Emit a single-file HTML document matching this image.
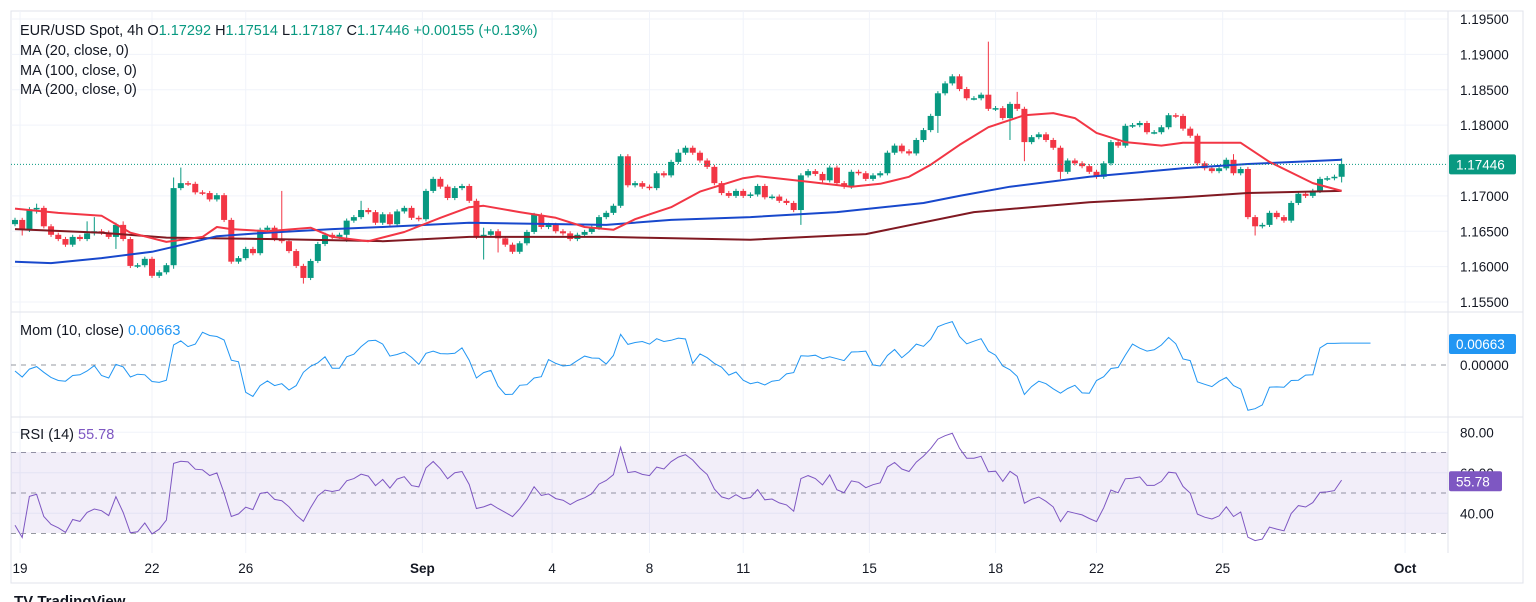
<!DOCTYPE html>
<html><head><meta charset="utf-8"><style>
body{margin:0;background:#fff;width:1536px;height:602px;overflow:hidden;font-family:"Liberation Sans",sans-serif}
svg{display:block}
text{font-family:"Liberation Sans",sans-serif}
</style></head><body>
<svg id="chart" width="1536" height="602" viewBox="0 0 1536 602" xmlns="http://www.w3.org/2000/svg">
<rect x="11" y="11" width="1512" height="572" fill="#fff" stroke="#e0e3eb"/>
<g id="grid"></g>
<rect x="11" y="452" width="1437" height="81" fill="rgba(126,87,194,0.1)"/>
<g id="marks"></g>
<line x1="11" y1="312" x2="1523" y2="312" stroke="#e0e3eb"/>
<line x1="11" y1="417" x2="1523" y2="417" stroke="#e0e3eb"/>
<line x1="1448" y1="11" x2="1448" y2="553" stroke="#e0e3eb"/>
<g id="axes"></g>
<g font-size="14.5" fill="#131722">
<text x="20" y="35">EUR/USD Spot, 4h  <tspan>O</tspan><tspan fill="#089981">1.17292</tspan>  <tspan>H</tspan><tspan fill="#089981">1.17514</tspan>  <tspan>L</tspan><tspan fill="#089981">1.17187</tspan>  <tspan>C</tspan><tspan fill="#089981">1.17446  +0.00155 (+0.13%)</tspan></text>
<text x="20" y="55">MA (20, close, 0)</text>
<text x="20" y="75">MA (100, close, 0)</text>
<text x="20" y="94">MA (200, close, 0)</text>
<text x="20" y="335">Mom (10, close)  <tspan fill="#2196f3">0.00663</tspan></text>
<text x="20" y="439">RSI (14)  <tspan fill="#7e57c2">55.78</tspan></text>
</g>
<text x="14" y="606" font-size="15" font-weight="bold" fill="#131722">TV TradingView</text>
</svg>
<script>
const closes=[1.1666,1.1652,1.1681,1.1683,1.1657,1.1645,1.1639,1.1631,1.1642,1.1639,1.1647,1.1650,1.1648,1.1642,1.1659,1.1639,1.1601,1.1602,1.1611,1.1587,
1.1592,1.1602,1.1711,1.1718,1.1717,1.1705,1.1704,1.1695,1.1701,1.1666,1.1607,1.1612,1.1625,1.1619,1.1652,1.1655,1.1639,1.1636,1.1622,1.1601,
1.1584,1.1608,1.1632,1.1645,1.1642,1.1645,1.1665,1.1670,1.1680,1.1677,1.1662,1.1674,1.1660,1.1678,1.1683,1.1669,1.1667,1.1707,1.1724,1.1713,
1.1697,1.1711,1.1714,1.1693,1.1642,1.1645,1.1650,1.1640,1.1631,1.1621,1.1633,1.1649,1.1673,1.1656,1.1659,1.1650,1.1647,1.1639,1.1645,1.1649,
1.1655,1.1670,1.1676,1.1686,1.1756,1.1715,1.1718,1.1713,1.1711,1.1732,1.1729,1.1748,1.1761,1.1768,1.1761,1.1750,1.1741,1.1718,1.1704,1.1700,
1.1707,1.1700,1.1702,1.1714,1.1698,1.1699,1.1693,1.1690,1.1680,1.1729,1.1735,1.1731,1.1722,1.1740,1.1718,1.1713,1.1734,1.1732,1.1724,1.1729,
1.1732,1.1761,1.1771,1.1763,1.1760,1.1779,1.1793,1.1813,1.1845,1.1859,1.1869,1.1851,1.1838,1.1838,1.1843,1.1823,1.1824,1.1810,1.1830,1.1823,
1.1776,1.1783,1.1787,1.1779,1.1768,1.1734,1.1750,1.1746,1.1742,1.1734,1.1727,1.1746,1.1776,1.1771,1.1799,1.1800,1.1803,1.1790,1.1790,1.1797,
1.1814,1.1813,1.1795,1.1785,1.1746,1.1739,1.1735,1.1739,1.1751,1.1732,1.1738,1.1670,1.1657,1.1659,1.1676,1.1670,1.1665,1.1690,1.1703,1.1700,
1.1707,1.1724,1.1725,1.1727,1.1745];
const firstOpen=1.1660;
const wickUp=[3,3,3,6,3,3,3,3,3,3,17,20,3,3,3,5,3,3,3,3, 3,3,15,22,3,3,3,3,3,3,3,3,3,3,3,3,3,68,3,3,
3,3,3,3,3,3,3,3,13,3,3,3,3,3,3,3,3,3,3,3, 3,3,3,3,3,10,3,3,3,3,3,3,3,3,3,3,3,3,3,3,
3,3,3,3,3,3,3,3,3,3,3,3,5,3,3,3,3,3,3,3, 3,3,3,3,3,3,3,3,3,3,3,3,3,3,3,3,3,3,3,3,
3,3,3,3,3,3,3,3,3,3,3,3,3,3,3,75,3,3,3,17, 3,3,3,3,3,3,3,3,3,3,3,3,3,3,3,3,3,3,3,3,
3,3,3,3,3,3,3,3,3,8,3,3,3,3,3,3,3,3,3,3, 3,3,3,3,8];
const wickDn=[3,8,3,6,3,3,3,3,3,3,3,3,3,3,17,3,3,3,3,3, 3,3,5,3,3,3,3,3,3,3,3,3,3,3,3,3,3,3,3,3,
8,3,3,3,3,3,10,3,3,3,3,3,3,3,3,3,3,3,3,3, 3,3,3,3,3,32,3,20,3,3,3,3,3,3,3,3,3,3,3,3,
3,3,3,3,3,3,3,3,3,3,3,3,3,3,3,3,3,3,3,3, 3,3,3,3,3,3,3,3,3,21,3,3,3,3,3,3,3,3,3,3,
3,3,3,3,3,3,3,3,24,3,3,3,3,3,3,3,3,3,31,3, 27,3,3,3,3,10,3,3,3,3,3,3,3,3,3,3,3,3,3,3,
3,3,3,3,3,3,3,3,3,3,3,3,13,3,3,3,3,3,3,3, 3,3,3,3,8];
const preCloses=[1.1690,1.1695,1.1688,1.1692,1.1685,1.1690,1.1694,1.1688,1.1680,1.1684,1.1688,1.1682,1.1675,1.1670];
const ma20Idx=[0,6,12,16,21,26,28,30,35,41,44,49,54,59,63,65,70,75,79,83,86,91,95,101,103,110,116,120,124,127,131,135,140,144,147,150,154,159,162,170,174,180,184];
const ma20Val=[1.1682,1.1676,1.1672,1.1648,1.1635,1.1642,1.1656,1.1653,1.1650,1.1655,1.1642,1.1636,1.1649,1.1669,1.1684,1.1686,1.1677,1.1669,1.1656,1.1652,1.1667,1.1684,1.1706,1.1725,1.1728,1.1720,1.1713,1.1717,1.1727,1.1744,1.1772,1.1797,1.1814,1.1817,1.1810,1.1789,1.1776,1.1771,1.1775,1.1775,1.1748,1.1718,1.1707];
const ma100Idx=[0,5,12,19,22,28,35,44,51,63,82,91,102,114,126,131,138,149,162,171,184];
const ma100Val=[1.1607,1.1605,1.1612,1.1621,1.1628,1.1643,1.1648,1.1653,1.1656,1.1662,1.1659,1.1666,1.1670,1.1677,1.1690,1.1700,1.1713,1.1727,1.1739,1.1745,1.1751];
const ma200Idx=[0,12,21,35,51,63,82,102,118,133,149,162,171,184];
const ma200Val=[1.1653,1.1648,1.1641,1.1639,1.1636,1.1642,1.1642,1.1638,1.1646,1.1677,1.1691,1.1698,1.1704,1.1707];
const priceTicks=["1.19500","1.19000","1.18500","1.18000","1.17000","1.16500","1.16000","1.15500"];
const dateLabels=["19","22","26","Sep","4","8","11","15","18","22","25","Oct"];
const dateBars=[0.7,19,32,56.5,74.5,88,101,118.5,136,150,167.5,192.8];
const lastPrice=1.17446, lastMom=0.00663, lastRsi=55.78;

const NS="http://www.w3.org/2000/svg";
const xOf=i=>15+i*7.21;
const yP=p=>19+(1.195-p)*7075;
const yM=m=>365-m*3170;
const yR=r=>493-(r-50)*2.025;
function mk(tag,attrs,parent){const e=document.createElementNS(NS,tag);for(const k in attrs)e.setAttribute(k,attrs[k]);parent.appendChild(e);return e;}
const grid=document.getElementById('grid'),marks=document.getElementById('marks'),axes=document.getElementById('axes');

dateBars.forEach((b,k)=>{const x=xOf(b);
 const l=mk('line',{x1:x,y1:11,x2:x,y2:553,stroke:'#f0f3fa'},grid);
 
 
 const t=mk('text',{x:x,y:573,'font-size':13.5,'text-anchor':'middle',fill:'#131722','font-weight':dateLabels[k]==='Sep'||dateLabels[k]==='Oct'?'bold':'normal'},axes);
 t.textContent=dateLabels[k];
 
 
});
priceTicks.forEach(s=>{const y=yP(parseFloat(s));
 const l=mk('line',{x1:11,y1:y,x2:1448,y2:y,stroke:'#f0f3fa'},grid);
 
 
 const t=mk('text',{x:1460,y:y+5,'font-size':13.5,fill:'#131722'},axes);
 t.textContent=s;
 
 
});
[80,60,40].forEach(v=>{const y=yR(v);
 const l=mk('line',{x1:11,y1:y,x2:1448,y2:y,stroke:'#f0f3fa'},grid);
 
 
 const t=mk('text',{x:1460,y:y+5,'font-size':13.5,fill:'#131722'},axes);
 t.textContent=v.toFixed(2);
 
 
});
[70,50,30].forEach(v=>{const y=yR(v);
 const l=mk('line',{x1:11,y1:y,x2:1448,y2:y,stroke:'#9598a1','stroke-dasharray':'5 5'},grid);
 
 
});
{const l=mk('line',{x1:11,y1:yM(0),x2:1448,y2:yM(0),stroke:'#9598a1','stroke-dasharray':'5 5'},grid);
 
 
 const t=mk('text',{x:1460,y:yM(0)+5,'font-size':13.5,fill:'#131722'},axes);
 t.textContent='0.00000';
 
 }

closes.forEach((c,i)=>{
 const o=i?closes[i-1]:firstOpen;
 const hi=Math.max(o,c)+wickUp[i]*0.0001, lo=Math.min(o,c)-wickDn[i]*0.0001;
 const col=c>=o?'#089981':'#f23645';const x=xOf(i);
 const w=mk('line',{x1:x,y1:yP(hi),x2:x,y2:yP(lo),stroke:col,'stroke-width':1},marks);
 
 
 const yt=yP(Math.max(o,c)),yb=yP(Math.min(o,c));
 const b=mk('rect',{x:x-3,y:yt,width:6,height:Math.max(1.5,yb-yt),fill:col},marks);
 
 
});
function line(idx,val,col,w,name){
 const d=idx.map((b,k)=>(k?'L':'M')+xOf(b).toFixed(1)+' '+yP(val[k]).toFixed(1)).join(' ');
 const p=mk('path',{d:d,fill:'none',stroke:col,'stroke-width':w,'stroke-linejoin':'round'},marks);
 
 
}
line(ma200Idx,ma200Val,'#801922',2,'ma200-line');
line(ma100Idx,ma100Val,'#1848cc',2,'ma100-line');
line(ma20Idx,ma20Val,'#f23645',2,'ma20-line');

const all=preCloses.concat(closes),off=preCloses.length;
const mom=closes.map((c,i)=>c-all[i+off-10]);
let ag=0,al=0;
for(let k=1;k<=13;k++){const d=all[k]-all[k-1];ag+=Math.max(d,0);al+=Math.max(-d,0);}
ag/=14;al/=14;
const rsi=[];
for(let k=off;k<all.length;k++){const d=all[k]-all[k-1];ag=(ag*13+Math.max(d,0))/14;al=(al*13+Math.max(-d,0))/14;rsi.push(al===0?100:100-100/(1+ag/al));}
{const p=mk('path',{d:mom.map((m,i)=>(i?'L':'M')+xOf(i).toFixed(1)+' '+yM(m).toFixed(1)).join(' ')+' H'+xOf(closes.length+3).toFixed(1),fill:'none',stroke:'#2196f3','stroke-width':1},marks);
 
 }
{const p=mk('path',{d:rsi.map((r,i)=>(i?'L':'M')+xOf(i).toFixed(1)+' '+yR(r).toFixed(1)).join(' '),fill:'none',stroke:'#7e57c2','stroke-width':1},marks);
 
 }

{const y=yP(lastPrice);
 const l=mk('line',{x1:11,y1:y,x2:1448,y2:y,stroke:'#089981','stroke-dasharray':'1 2'},marks);
 
 }
function badge(y,txt,col,w,name){
 const r=mk('rect',{x:1449,y:y-10,width:w,height:20,rx:2,fill:col},axes);
 
 
 const t=mk('text',{x:1456,y:y+5,'font-size':13.5,fill:'#fff'},axes);
 t.textContent=txt;
 
 
}
badge(yP(lastPrice),lastPrice.toFixed(5),'#089981',67,'last-price-badge');
badge(yM(lastMom),lastMom.toFixed(5),'#2196f3',67,'mom-value-badge');
badge(yR(lastRsi),lastRsi.toFixed(2),'#7e57c2',53,'rsi-value-badge');
</script>
</body></html>
